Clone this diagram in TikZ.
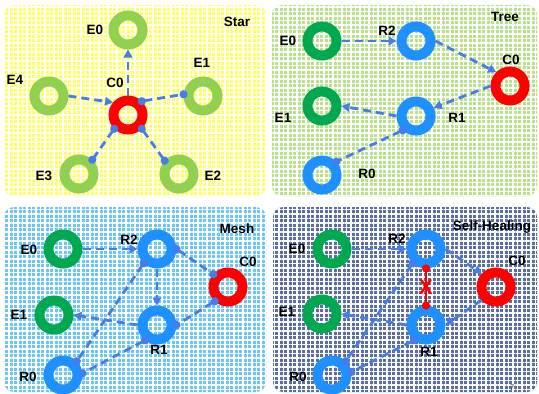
\documentclass[tikz,border=0pt]{standalone}
\usepackage{fontspec}
\setmainfont{Liberation Sans}
\usetikzlibrary{arrows.meta,patterns.meta}
\definecolor{ringlg}{RGB}{146,208,80}
\definecolor{ringg}{RGB}{0,168,80}
\definecolor{ringb}{RGB}{30,144,255}
\definecolor{ringr}{RGB}{255,0,0}
\definecolor{linkc}{RGB}{70,125,235}
\definecolor{pY}{RGB}{255,255,100}
\definecolor{pG}{RGB}{185,225,140}
\definecolor{pB}{RGB}{110,198,240}
\definecolor{pN}{RGB}{90,110,160}
\newcommand\drawpanel[5]{%
  \path[fill=#1,rounded corners=10pt] (#2,#3) rectangle (#4,#5);
  \path[pattern={Lines[angle=0,distance=4.5pt,line width=1.6pt]},pattern color=white,rounded corners=10pt] (#2,#3) rectangle (#4,#5);
  \path[pattern={Lines[angle=90,distance=4.5pt,line width=1.6pt]},pattern color=white,rounded corners=10pt] (#2,#3) rectangle (#4,#5);
}
\begin{document}
\begin{tikzpicture}[x=1pt,y=-1pt,
  ring/.style={circle,minimum size=29pt,inner sep=0pt,line width=10pt,draw=#1},
  lbl/.style={font=\fontsize{13.5}{15}\selectfont\bfseries,inner sep=0pt},
  arr/.style={draw=linkc,line width=2.8pt,dash pattern=on 8pt off 5pt,-{Triangle[length=8pt,width=8.5pt]}},
  dots/.style={draw=linkc,line width=2.8pt,dash pattern=on 8pt off 5pt,{Circle[length=8pt]}-{Circle[length=8pt]},shorten <=-4pt,shorten >=-4pt},
  cut/.style={draw=ringr,line width=2.6pt,{Circle[length=8pt]}-{Circle[length=8pt]},shorten <=-4pt,shorten >=-4pt}]
\useasboundingbox (0,0) rectangle (539,394);
\path[fill=white] (0,0) rectangle (539,394);
% panels
\drawpanel{pY}{4}{5}{266}{196}
\drawpanel{pG}{272}{5}{537}{196}
\drawpanel{pB}{4}{207}{266}{392}
\drawpanel{pN}{273}{207}{537}{392}
% ---------------- Star
\node[ring=ringlg] (sE0) at (128,30) {};
\node[ring=ringlg] (sE1) at (203,96) {};
\node[ring=ringlg] (sE4) at (49,96) {};
\node[ring=ringr]  (sC0) at (128,115) {};
\node[ring=ringlg] (sE3) at (79,174) {};
\node[ring=ringlg] (sE2) at (179,174) {};
\draw[arr] (sC0.north) -- (sE0.south);
\draw[arr] (sE4.east) -- (sC0.140);
\draw[dots] (sC0.45) -- (sE1.175);
\draw[dots] (sC0.-45) -- (sE2.137);
\draw[dots] (sC0.225) -- (sE3.47);
\node[lbl] (tStar) at (237,22) {Star};
\node[lbl] (tsE0) at (95,30) {E0};
\node[lbl] (tsE1) at (202,63) {E1};
\node[lbl] (tsE4) at (15,80) {E4};
\node[lbl] (tsC0) at (115,83) {C0};
\node[lbl] (tsE3) at (44,176) {E3};
\node[lbl] (tsE2) at (213,176) {E2};
% ---------------- Tree
\node[ring=ringg] (tE0) at (322,41) {};
\node[ring=ringb] (tR2) at (416,41) {};
\node[ring=ringr] (tC0) at (510,86) {};
\node[ring=ringg] (tE1) at (322,106) {};
\node[ring=ringb] (tR1) at (416,116) {};
\node[ring=ringb] (tR0) at (322,175) {};
\draw[arr] (tE0) -- (tR2);
\draw[arr] (tR2.east) -- (tC0.135);
\draw[arr] (tC0.west) -- (tR1.25);
\draw[arr] (tR1.west) -- (tE1.east);
\draw[dots] (tR1.227) -- (tR0.43);
\node[lbl] (tTree) at (505,17) {Tree};
\node[lbl] (ttE0) at (288,41) {E0};
\node[lbl] (ttR2) at (387,31) {R2};
\node[lbl] (ttC0) at (511,60) {C0};
\node[lbl] (ttE1) at (283,118) {E1};
\node[lbl] (ttR1) at (457,118) {R1};
\node[lbl] (ttR0) at (367,174) {R0};
% ---------------- Mesh
\node[ring=ringg] (mE0) at (63,249) {};
\node[ring=ringb] (mR2) at (157,249) {};
\node[ring=ringr] (mC0) at (228,287) {};
\node[ring=ringg] (mE1) at (54,315) {};
\node[ring=ringb] (mR1) at (157,325) {};
\node[ring=ringb] (mR0) at (63,375) {};
\draw[arr] (mE0) -- (mR2);
\draw[dots] (mR2.east) -- (mC0.139);
\draw[arr] (mR2.south) -- (mR1.north);
\draw[dots] (mC0.227) -- (mR1.east);
\draw[arr] (mR1.west) -- (mE1.east);
\draw[dots] (mR2.227) -- (mR0.45);
\draw[dots] (mR1.232) -- (mR0.5);
\node[lbl] (tMesh) at (237,229) {Mesh};
\node[lbl] (tmE0) at (29,250) {E0};
\node[lbl] (tmR2) at (129,240) {R2};
\node[lbl] (tmC0) at (248,262) {C0};
\node[lbl] (tmE1) at (19,315) {E1};
\node[lbl] (tmR1) at (159,350) {R1};
\node[lbl] (tmR0) at (28,377) {R0};
% ---------------- Self-Healing
\node[ring=ringg] (hE0) at (332,249) {};
\node[ring=ringb] (hR2) at (426,249) {};
\node[ring=ringr] (hC0) at (496,287) {};
\node[ring=ringg] (hE1) at (322,314) {};
\node[ring=ringb] (hR1) at (426,325) {};
\node[ring=ringb] (hR0) at (332,375) {};
\draw[arr] (hE0) -- (hR2);
\draw[arr] (hR2.east) -- (hC0.137);
\draw[arr] (hC0.222) -- (hR1.east);
\draw[arr] (hR1.west) -- (hE1.east);
\draw[dots] (hR2.227) -- (hR0.45);
\draw[dots] (hR1.232) -- (hR0.9);
\draw[cut] (hR2.south) -- node[font=\fontsize{21}{22}\selectfont\bfseries,text=ringr,inner sep=0pt] (hX) {X} (hR1.north);
\node[lbl] (tSelf) at (492,227) {Self-Healing};
\node[lbl] (thE0) at (297,249) {E0};
\node[lbl] (thR2) at (397,239) {R2};
\node[lbl] (thC0) at (517,261) {C0};
\node[lbl] (thE1) at (287,312) {E1};
\node[lbl] (thR1) at (429,352) {R1};
\node[lbl] (thR0) at (298,377) {R0};
\node[font=\fontsize{8}{9}\selectfont,text=black!80,inner sep=0pt] (pnum) at (512,388) {7};
\end{tikzpicture}
\end{document}
